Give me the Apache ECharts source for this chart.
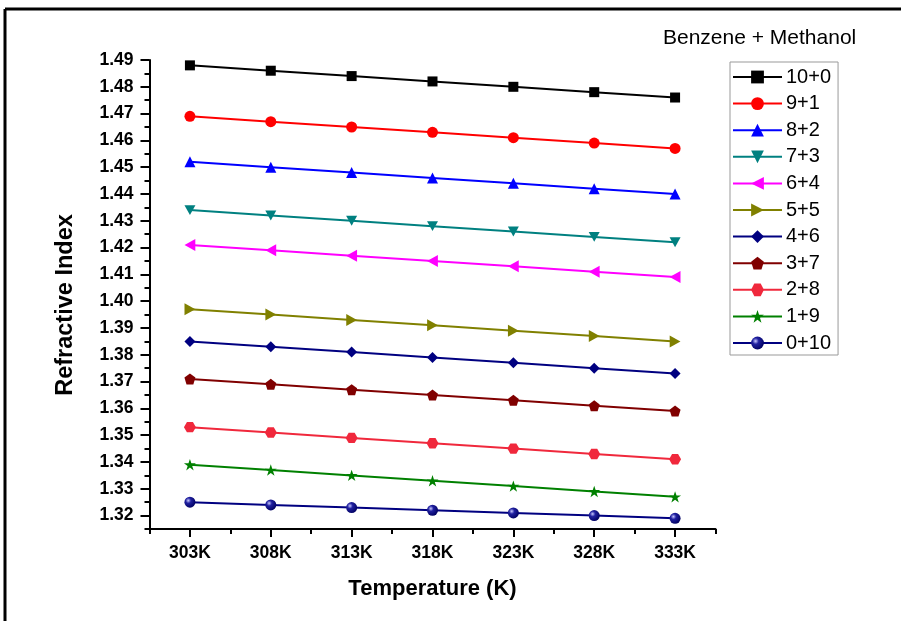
<!DOCTYPE html>
<html>
<head>
<meta charset="utf-8">
<script src="https://cdn.jsdelivr.net/npm/echarts@6/dist/echarts.min.js"></script>
<style>
  html, body { margin: 0; padding: 0; background: #fff; }
  #chart { width: 901px; height: 621px; }
</style>
</head>
<body>
<div id="chart"></div>
<script>
// Temperatures (K) and refractive index of benzene + methanol mixtures
const temperatures = [303, 308, 313, 318, 323, 328, 333];
const xTickLabels = ['303K', '308K', '313K', '318K', '323K', '328K', '333K'];
const yTickValues = [1.32, 1.33, 1.34, 1.35, 1.36, 1.37, 1.38, 1.39, 1.40, 1.41, 1.42, 1.43, 1.44, 1.45, 1.46, 1.47, 1.48, 1.49];
const yTickLabels = ['1.32', '1.33', '1.34', '1.35', '1.36', '1.37', '1.38', '1.39', '1.40', '1.41', '1.42', '1.43', '1.44', '1.45', '1.46', '1.47', '1.48', '1.49'];

const mixtures = ['10+0', '9+1', '8+2', '7+3', '6+4', '5+5', '4+6', '3+7', '2+8', '1+9', '0+10'];

const ri_10_0 = [1.488, 1.486, 1.484, 1.482, 1.480, 1.478, 1.476];
const ri_9_1  = [1.469, 1.467, 1.465, 1.463, 1.461, 1.459, 1.457];
const ri_8_2  = [1.452, 1.450, 1.448, 1.446, 1.444, 1.442, 1.440];
const ri_7_3  = [1.434, 1.432, 1.430, 1.428, 1.426, 1.424, 1.422];
const ri_6_4  = [1.421, 1.419, 1.417, 1.415, 1.413, 1.411, 1.409];
const ri_5_5  = [1.397, 1.395, 1.393, 1.391, 1.389, 1.387, 1.385];
const ri_4_6  = [1.385, 1.383, 1.381, 1.379, 1.377, 1.375, 1.373];
const ri_3_7  = [1.371, 1.369, 1.367, 1.365, 1.363, 1.361, 1.359];
const ri_2_8  = [1.353, 1.351, 1.349, 1.347, 1.345, 1.343, 1.341];
const ri_1_9  = [1.339, 1.337, 1.335, 1.333, 1.331, 1.329, 1.327];
const ri_0_10 = [1.325, 1.324, 1.323, 1.322, 1.321, 1.320, 1.319];

const seriesValues = [ri_10_0, ri_9_1, ri_8_2, ri_7_3, ri_6_4, ri_5_5, ri_4_6, ri_3_7, ri_2_8, ri_1_9, ri_0_10];

const colors = ['#000000', '#ff0000', '#0000ff', '#008080', '#ff00ff', '#808000',
                '#000080', '#800000', '#f0283c', '#008000', '#000080'];

const sphere = {
  type: 'radial', x: 0.35, y: 0.35, r: 0.7,
  colorStops: [{ offset: 0, color: '#c8c8ff' }, { offset: 0.35, color: '#2020a0' }, { offset: 1, color: '#000060' }]
};

const symbols = [
  'rect',
  'circle',
  'triangle',
  'path://M0,0 L10,0 L5,9 Z',
  'path://M0,5 L9,0 L9,10 Z',
  'path://M0,0 L9,5 L0,10 Z',
  'diamond',
  'path://M5,0 L10,3.8 L8.1,10 L1.9,10 L0,3.8 Z',
  'path://M2.5,0 L7.5,0 L10,4.33 L7.5,8.66 L2.5,8.66 L0,4.33 Z',
  'path://M5,0 L6.2,3.6 L10,3.6 L6.9,5.8 L8.1,9.5 L5,7.2 L1.9,9.5 L3.1,5.8 L0,3.6 L3.8,3.6 Z',
  'circle'
];
const symbolSizes = [10, 11, 11, 11, 12, 12, 11, 11, 12, 12, 11];

// x minor ticks sit midway between labelled temperatures
const xMinor = [300.5, 305.5, 310.5, 315.5, 320.5, 325.5, 330.5, 335.5];
const yMinor = [1.315, 1.325, 1.335, 1.345, 1.355, 1.365, 1.375, 1.385, 1.395, 1.405, 1.415, 1.425, 1.435, 1.445, 1.455, 1.465, 1.475, 1.485];

const FONT = 'Liberation Sans, Arial, sans-serif';
const labelFont = { color: '#000', fontFamily: FONT, fontWeight: 'bold', fontSize: 17.5 };

const series = mixtures.map((name, i) => ({
  name: name,
  type: 'line',
  xAxisIndex: 0,
  yAxisIndex: 0,
  data: temperatures.map((t, k) => [t, seriesValues[i][k]]),
  symbol: symbols[i],
  symbolSize: symbolSizes[i],
  symbolKeepAspect: true,
  showAllSymbol: true,
  lineStyle: { color: colors[i], width: 2 },
  itemStyle: { color: i === 10 ? sphere : colors[i], borderWidth: 0 },
  emphasis: { disabled: true },
  animation: false
}));

const chart = echarts.init(document.getElementById('chart'), null, { renderer: 'canvas' });

chart.setOption({
  backgroundColor: '#ffffff',
  animation: false,
  grid: { left: 149.5, right: 185.5, top: 60, bottom: 92, containLabel: false },
  xAxis: [
    {
      type: 'value', min: 300.5, max: 335.5,
      axisLine: { show: true, onZero: false, lineStyle: { color: '#000', width: 2 } },
      axisTick: { show: true, inside: false, length: 8, lineStyle: { color: '#000', width: 2 }, customValues: temperatures },
      axisLabel: {
        show: true, margin: 15, ...labelFont, customValues: temperatures,
        formatter: v => xTickLabels[temperatures.indexOf(Math.round(v))] || ''
      },
      splitLine: { show: false },
      name: 'Temperature (K)', nameLocation: 'middle', nameGap: 49,
      nameTextStyle: { color: '#000', fontFamily: FONT, fontWeight: 'bold', fontSize: 22 }
    },
    {
      type: 'value', min: 300.5, max: 335.5, position: 'bottom',
      axisLine: { show: false, onZero: false },
      axisTick: { show: true, inside: false, length: 5, lineStyle: { color: '#000', width: 2 }, customValues: xMinor },
      axisLabel: { show: false },
      splitLine: { show: false }
    }
  ],
  yAxis: [
    {
      type: 'value', min: 1.315, max: 1.49,
      axisLine: { show: true, onZero: false, lineStyle: { color: '#000', width: 2 } },
      axisTick: { show: true, inside: false, length: 9, lineStyle: { color: '#000', width: 2 }, customValues: yTickValues },
      axisLabel: {
        show: true, margin: 16, ...labelFont, customValues: yTickValues,
        formatter: v => {
          const idx = yTickValues.findIndex(t => Math.abs(t - v) < 1e-6);
          return idx >= 0 ? yTickLabels[idx] : '';
        }
      },
      splitLine: { show: false }
    },
    {
      type: 'value', min: 1.315, max: 1.49, position: 'left',
      axisLine: { show: false, onZero: false },
      axisTick: { show: true, inside: false, length: 5, lineStyle: { color: '#000', width: 2 }, customValues: yMinor },
      axisLabel: { show: false },
      splitLine: { show: false }
    }
  ],
  legend: {
    orient: 'vertical',
    left: 730, top: 62,
    padding: [5, 7, 2, 2],
    itemWidth: 49, itemHeight: 16, itemGap: 6.6,
    borderColor: '#999', borderWidth: 1,
    backgroundColor: '#fff',
    textStyle: { color: '#000', fontFamily: FONT, fontSize: 20, lineHeight: 20, padding: [0, 0, 0, -1] },
    data: mixtures,
    selectedMode: false
  },
  graphic: [
    { type: 'line', shape: { x1: 5, y1: 9, x2: 901, y2: 9 }, style: { stroke: '#000', lineWidth: 3 }, silent: true },
    { type: 'line', shape: { x1: 5, y1: 9, x2: 5, y2: 621 }, style: { stroke: '#000', lineWidth: 3 }, silent: true },
    {
      type: 'text', x: 663, y: 38,
      style: { text: 'Benzene + Methanol', fill: '#000', verticalAlign: 'middle', font: '21px "Liberation Sans", Arial, sans-serif' }
    },
    {
      type: 'text', x: 66, y: 305, rotation: Math.PI / 2,
      style: {
        text: 'Refractive Index', fill: '#000', align: 'center', verticalAlign: 'middle',
        font: 'bold 23.5px "Liberation Sans", Arial, sans-serif'
      }
    }
  ],
  series: series
});
</script>
</body>
</html>
